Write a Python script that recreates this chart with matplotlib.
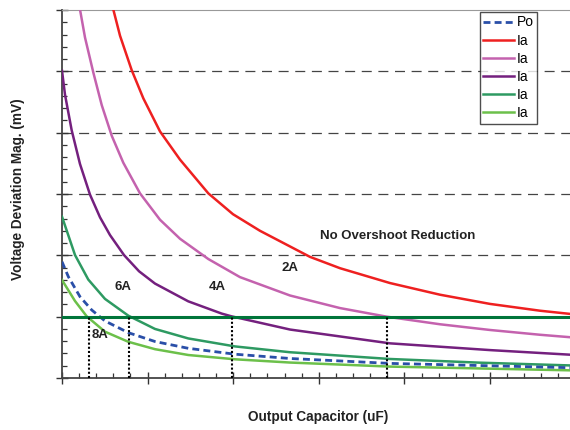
import numpy as np
import matplotlib.pyplot as plt
from matplotlib.ticker import MultipleLocator

plt.rcParams['font.family'] = ['Liberation Sans', 'DejaVu Sans']

# curves (x: capacitor, y: deviation)
red_x = [0.599, 0.678, 0.814, 0.950, 1.145, 1.379, 1.709, 1.998, 2.313, 2.629,
         2.897, 3.248, 3.832, 4.416, 5.0, 5.584, 5.935, 6.0]
red_y = [6.01, 5.58, 5.02, 4.56, 4.02, 3.56, 3.011, 2.67, 2.40, 2.17,
         1.975, 1.79, 1.548, 1.358, 1.208, 1.097, 1.045, 1.036]

pink_x = [0.210, 0.269, 0.366, 0.464, 0.581, 0.716, 0.911, 1.145, 1.379, 1.709,
          2.079, 2.664, 3.248, 3.793, 4.416, 5.0, 5.584, 5.935, 6.0]
pink_y = [6.01, 5.55, 4.98, 4.45, 3.95, 3.51, 3.011, 2.58, 2.27, 1.94,
          1.645, 1.345, 1.14, 1.0, 0.876, 0.783, 0.705, 0.665, 0.658]

purple_x = [0.0, 0.035, 0.113, 0.21, 0.327, 0.444, 0.561, 0.724, 0.9, 1.086,
            1.475, 1.866, 1.982, 2.664, 3.832, 5.0, 5.935, 6.0]
purple_y = [5.01, 4.62, 4.04, 3.49, 2.99, 2.62, 2.33, 2.005, 1.74, 1.54,
            1.25, 1.05, 1.005, 0.79, 0.565, 0.455, 0.38, 0.376]

teal_x = [0.0, 0.152, 0.307, 0.502, 0.775, 1.086, 1.475, 2.021, 2.664, 3.832,
          4.88, 5.935, 6.0]
teal_y = [2.63, 2.005, 1.605, 1.29, 1.016, 0.80, 0.645, 0.515, 0.42, 0.31,
          0.25, 0.205, 0.203]

po_x = [0.0, 0.074, 0.21, 0.347, 0.502, 0.775, 1.086, 1.475, 2.021, 2.664,
        3.832, 5.935, 6.0]
po_y = [1.896, 1.652, 1.326, 1.109, 0.93, 0.739, 0.595, 0.484, 0.388, 0.318,
        0.238, 0.168, 0.166]

lgreen_x = [0.0, 0.152, 0.289, 0.502, 0.775, 1.086, 1.475, 2.021, 2.664, 3.832,
            5.935, 6.0]
lgreen_y = [1.598, 1.255, 1.005, 0.755, 0.59, 0.47, 0.375, 0.305, 0.252, 0.186,
            0.125, 0.124]

limit_y = 1.0
cross_x = [0.315, 0.78, 1.99, 3.80]

labels = [('No Overshoot Reduction', 3.925, 2.315),
          ('2A', 2.66, 1.79), ('4A', 1.82, 1.48),
          ('6A', 0.71, 1.48), ('8A', 0.44, 0.70)]

fig = plt.figure(figsize=(5.7, 4.3), dpi=100)
ax = fig.add_axes([62 / 570, 52 / 430, 513.6 / 570, 368 / 430])

# dashed grid
for gy in [1, 2, 3, 4, 5]:
    ax.axhline(gy, color='#444444', lw=0.9, dashes=(8, 5.3), zorder=1)

ax.plot(po_x, po_y, color='#2a4fa8', lw=2.0, dashes=(2.5, 1.5), label='Po', zorder=4)
ax.plot(red_x, red_y, color='#ee2020', lw=1.8, label='Ia', zorder=3)
ax.plot(pink_x, pink_y, color='#c462ae', lw=1.8, label='Ia', zorder=3)
ax.plot(purple_x, purple_y, color='#74207e', lw=1.8, label='Ia', zorder=3)
ax.plot(teal_x, teal_y, color='#2e9a62', lw=1.8, label='Ia', zorder=3)
ax.plot(lgreen_x, lgreen_y, color='#6cc04a', lw=1.8, label='Ia', zorder=3)

ax.axhline(limit_y, color='#00753a', lw=2.2, zorder=5)
for cx in cross_x:
    ax.plot([cx, cx], [0, limit_y], color='black', lw=1.5, ls=(0, (1, 1)), zorder=6)

for txt, tx, ty in labels:
    ax.text(tx, ty, txt, fontsize=9.5, fontweight='bold', color='#222222',
            ha='center', va='center', zorder=7)

ax.set_xlim(0, 6)
ax.set_ylim(0, 6)
ax.xaxis.set_major_locator(MultipleLocator(1))
ax.xaxis.set_minor_locator(MultipleLocator(0.2))
ax.yaxis.set_major_locator(MultipleLocator(1))
ax.yaxis.set_minor_locator(MultipleLocator(0.2))
ax.tick_params(which='major', direction='inout', length=8, width=1, color='#333333',
               labelbottom=False, labelleft=False)
ax.tick_params(which='minor', direction='in', length=3.5, width=0.9, color='#333333')

for s in ['left', 'bottom']:
    ax.spines[s].set_color('#444444')
    ax.spines[s].set_linewidth(1.3)
ax.spines['top'].set_color('#999999')
ax.spines['right'].set_color('#999999')

fig.text(318 / 570, 1 - 417 / 430, 'Output Capacitor (uF)', fontsize=9.8,
         fontweight='bold', color='#222222', ha='center', va='center')
fig.text(18 / 570, 1 - 189 / 430, 'Voltage Deviation Mag. (mV)', fontsize=9.8,
         fontweight='bold', color='#222222', ha='center', va='center', rotation=90)

leg = ax.legend(loc='upper left', bbox_to_anchor=(418 / 513.6, 1 - 2 / 368),
                fontsize=10, frameon=True, fancybox=False, handlelength=2.2,
                handletextpad=0.2, labelspacing=0.3, borderpad=0.25, borderaxespad=0)
leg.get_frame().set_edgecolor('#222222')
leg.get_frame().set_linewidth(1.0)

fig.savefig('out.png', dpi=100)
